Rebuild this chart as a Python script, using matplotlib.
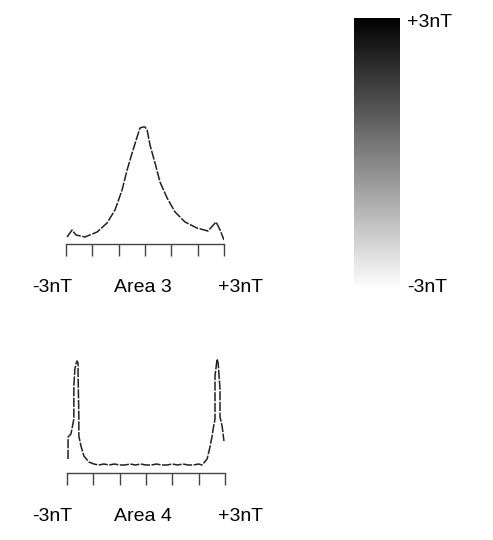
import numpy as np
import matplotlib.pyplot as plt
from matplotlib.colors import LinearSegmentedColormap, Normalize
from matplotlib.cm import ScalarMappable

plt.rcParams['font.family'] = ['Liberation Sans', 'DejaVu Sans']

# field value (nT) vs. relative count
area3_x = [-2.96, -2.77, -2.62, -2.28, -1.82, -1.44, -1.14, -0.87, -0.68, -0.49,
           -0.30, -0.19, -0.08, 0.0, 0.08, 0.19, 0.38, 0.57, 0.84, 1.14,
           1.52, 1.97, 2.39, 2.70, 2.85, 3.0]
area3_y = [7, 14, 9, 7, 12, 21, 34, 54, 74, 91,
           107, 116, 117, 117, 114, 99, 81, 62, 46, 32,
           22, 16, 13, 22, 14, 4]

area4_x = [-2.96, -2.96, -2.85, -2.74, -2.74, -2.70, -2.66, -2.62, -2.58, -2.58,
           -2.55, -2.55, -2.47, -2.36, -2.17, -1.98,
           -1.8, -1.6, -1.4, -1.2, -1.0, -0.8, -0.6, -0.4, -0.2, 0.0,
           0.2, 0.4, 0.6, 0.8, 1.0, 1.2, 1.4, 1.6, 1.8, 2.0, 2.13,
           2.32, 2.43, 2.51, 2.55, 2.62, 2.62, 2.70, 2.74, 2.81, 2.81, 2.89, 2.96]
area4_y = [14, 36, 39, 54, 87, 104, 109, 112, 110, 99,
           57, 37, 27, 17, 11, 9,
           8, 9, 8, 9, 8, 8, 9, 8, 9, 8,
           8, 9, 8, 8, 9, 8, 9, 8, 8, 9, 8,
           14, 26, 37, 44, 54, 97, 114, 110, 84, 56, 47, 32]

ticks = [-3, -2, -1, 0, 1, 2, 3]
cbar_range = [-3, 3]

W, H = 493, 540
fig = plt.figure(figsize=(W / 100, H / 100), dpi=100)


def hist_axes(left, right, base, xs, ys, name):
    ax = fig.add_axes([left / W, (H - base) / H, (right - left) / W, 120 / H])
    ax.plot(xs, ys, color='#222222', lw=1.1, ls=(0, (6, 1)))
    ax.set_xlim(-3, 3)
    ax.set_ylim(0, 120)
    for s in ['left', 'right', 'top']:
        ax.spines[s].set_visible(False)
    ax.spines['bottom'].set_color('#444444')
    ax.spines['bottom'].set_linewidth(1.0)
    ax.set_yticks([])
    ax.set_xticks(ticks)
    ax.tick_params(axis='x', direction='out', length=8.5, width=1.0,
                   color='#444444', labelbottom=False)
    ax.patch.set_visible(False)
    tb = (H - base - 48) / H
    fig.text(52 / W, tb, '-3nT', ha='center', va='baseline', fontsize=14)
    fig.text(143 / W, tb, name, ha='center', va='baseline', fontsize=14)
    fig.text(241 / W, tb, '+3nT', ha='center', va='baseline', fontsize=14)
    return ax


hist_axes(66, 224, 244, area3_x, area3_y, 'Area 3')
hist_axes(67, 225, 473, area4_x, area4_y, 'Area 4')

# colour scale
cmap = LinearSegmentedColormap.from_list('wb', ['#ffffff', '#000000'])
cax = fig.add_axes([354 / W, (H - 290) / H, 46 / W, 272 / H])
sm = ScalarMappable(norm=Normalize(*cbar_range), cmap=cmap)
cb = fig.colorbar(sm, cax=cax)
cb.outline.set_visible(False)
cb.set_ticks([])
fig.text(407 / W, (H - 27) / H, '+3nT', ha='left', va='baseline', fontsize=14)
fig.text(407 / W, (H - 292) / H, '-3nT', ha='left', va='baseline', fontsize=14)

fig.savefig('out.png', dpi=100)
